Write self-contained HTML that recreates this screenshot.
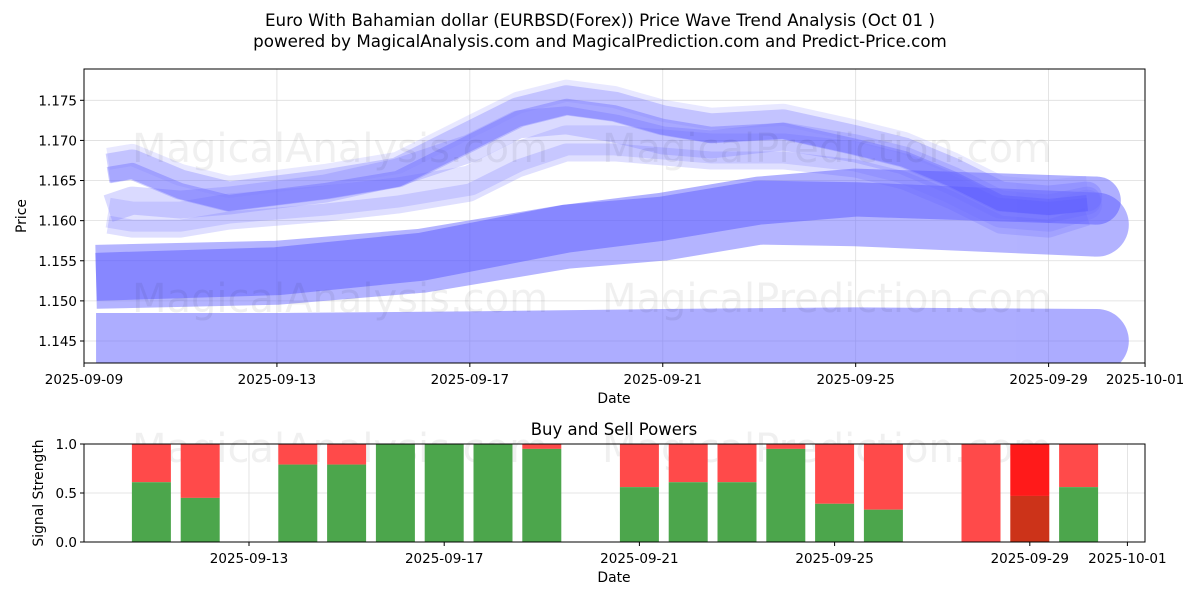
<!DOCTYPE html>
<html><head><meta charset="utf-8"><style>
body{margin:0;background:#fff;font-family:"Liberation Sans","DejaVu Sans",sans-serif}
svg text{font-family:"DejaVu Sans","Liberation Sans",sans-serif}
</style></head><body>
<svg id="chart" width="1200" height="600" viewBox="0 0 1200 600" xmlns="http://www.w3.org/2000/svg">
<defs><clipPath id="pc"><rect x="84" y="69" width="1061" height="294"/></clipPath></defs>
<rect width="1200" height="600" fill="#fff"/>
<text x="600" y="26" font-size="16.7" text-anchor="middle">Euro With Bahamian dollar (EURBSD(Forex)) Price Wave Trend Analysis (Oct 01 )</text>
<text x="600" y="47" font-size="16.7" text-anchor="middle">powered by MagicalAnalysis.com and MagicalPrediction.com and Predict-Price.com</text>
<g id="grid1"></g>
<g id="bands" clip-path="url(#pc)"></g>
<g font-size="40" fill="#000" fill-opacity="0.06">
<text x="132" y="162">MagicalAnalysis.com</text><text x="602" y="162">MagicalPrediction.com</text>
<text x="132" y="312">MagicalAnalysis.com</text><text x="602" y="312">MagicalPrediction.com</text>
<text x="132" y="462">MagicalAnalysis.com</text><text x="602" y="462">MagicalPrediction.com</text>
</g>
<rect x="84" y="69" width="1061" height="294" fill="none" stroke="#000" stroke-width="1"/>
<g id="axes1" font-size="13.5"></g>
<text x="26" y="216" font-size="13.9" text-anchor="middle" transform="rotate(-90 26 216)">Price</text>
<text x="614" y="403" font-size="13.9" text-anchor="middle">Date</text>
<text x="614" y="435" font-size="16.5" text-anchor="middle">Buy and Sell Powers</text>
<g id="grid2"></g>
<g id="bars"></g>
<rect x="84" y="444" width="1061" height="98" fill="none" stroke="#000" stroke-width="1"/>
<g id="axes2" font-size="13.5"></g>
<text x="43" y="493" font-size="13.9" text-anchor="middle" transform="rotate(-90 43 493)">Signal Strength</text>
<text x="614" y="582" font-size="13.9" text-anchor="middle">Date</text>
</svg>
<script>
const NS="http://www.w3.org/2000/svg";
// price chart data (day offsets from 2025-09-09)
const priceTicks=[1.145,1.150,1.155,1.160,1.165,1.170,1.175];
const dateTicks=["2025-09-09","2025-09-13","2025-09-17","2025-09-21","2025-09-25","2025-09-29","2025-10-01"];
const dateTickDays=[0,4,8,12,16,20,22];
const bandLowDays=[0.25,4,8,12,16,21];
const bandLowVals=[1.1445,1.1445,1.1447,1.1450,1.1452,1.1450];
const bandMidDays=[0.25,4,7,10,12,14,16,21];
const bandMidVals=[1.1530,1.1535,1.1550,1.1580,1.1590,1.1610,1.1608,1.1595];
const bandMid2Vals=[1.1530,1.1537,1.1555,1.1590,1.1605,1.1625,1.1635,1.1625];
const waveDays=[0.5,1,2,3,5,6.5,8,9,10,11,12,13,14.5,16,17,18,19,20,20.8];
const waveVals=[1.1665,1.1670,1.1645,1.1630,1.1645,1.1660,1.1705,1.1735,1.1750,1.1742,1.1725,1.1715,1.1720,1.1700,1.1685,1.1660,1.1630,1.1625,1.1630];
const wave2Vals=[1.1615,1.1625,1.1620,1.1625,1.1640,1.1660,1.1690,1.1720,1.1725,1.1715,1.1700,1.1695,1.1705,1.1690,1.1675,1.1650,1.1620,1.1615,1.1625];
const wave3Vals=[1.1610,1.1605,1.1605,1.1615,1.1625,1.1635,1.1650,1.1680,1.1700,1.1700,1.1695,1.1690,1.1690,1.1680,1.1665,1.1640,1.1610,1.1605,1.1620];
// signal data (day offsets from 2025-09-09)
const barDays=[2,3,5,6,7,8,9,10,12,13,14,15,16,17,19,20,21];
const buyVals=[0.61,0.45,0.79,0.79,1,1,1,0.95,0.56,0.61,0.61,0.95,0.39,0.33,0,0.47,0.56];
const sigTicks=[0,0.5,1];
const sigDateTicks=["2025-09-13","2025-09-17","2025-09-21","2025-09-25","2025-09-29","2025-10-01"];
const sigDateDays=[4,8,12,16,20,22];

const X=d=>84+d*48.23;
const Y=v=>100.3+(1.175-v)*8023;
const X2=d=>249+(d-4)*48.8;
const Y2=v=>542-v*98;
function el(t,a,p){const e=document.createElementNS(NS,t);for(const k in a)e.setAttribute(k,a[k]);p.appendChild(e);return e;}
const g1=document.getElementById('grid1'),ax1=document.getElementById('axes1'),bands=document.getElementById('bands');
priceTicks.forEach(v=>{
  const l=el('line',{x1:84,x2:1145,y1:Y(v),y2:Y(v),stroke:'#ddd','stroke-width':0.8},g1);
  
  
  el('line',{x1:80,x2:84,y1:Y(v),y2:Y(v),stroke:'#000'},ax1);
  const t=el('text',{x:77,y:Y(v)+5,'text-anchor':'end'},ax1);t.textContent=v.toFixed(3);
  
  
});
dateTicks.forEach((s,i)=>{
  const x=X(dateTickDays[i]);
  el('line',{x1:x,x2:x,y1:69,y2:363,stroke:'#ddd','stroke-width':0.8},g1);
  el('line',{x1:x,x2:x,y1:363,y2:367,stroke:'#000'},ax1);
  const t=el('text',{x:x,y:384,'text-anchor':'middle'},ax1);t.textContent=s;
  
  
});
function pts(ds,vs,off){return ds.map((d,i)=>X(d)+','+Y(vs[i]+(off||0))).join(' ');}
function band(ds,vs,w,col,op,name,off,cap){
  const g=el('g',{opacity:op},bands);
  
  
  el('polyline',{points:pts(ds,vs,off),fill:'none',stroke:col,'stroke-width':w,'stroke-linejoin':'round','stroke-linecap':'butt'},g);
  if(cap){const n=ds.length-1;el('circle',{cx:X(ds[n]),cy:Y(vs[n]+(off||0)),r:w/2,fill:col},g);}
}
band(bandLowDays,bandLowVals,64,'#6a6aff',0.55,'band-low',0,true);
band(bandMidDays,bandMidVals,64,'#6a6aff',0.5,'band-mid-outer',0,true);
band(bandMidDays,bandMid2Vals,48,'#5050ff',0.45,'band-mid-inner',0,true);
band(waveDays,wave3Vals,30,'#7070ff',0.2,'wave-band-low',0,true);
band(waveDays,wave3Vals,18,'#6060ff',0.2,'wave-band-low2',-0.0015,false);
band(waveDays,wave2Vals,28,'#6a6aff',0.25,'wave-band-mid',0,true);
band(waveDays,waveVals,30,'#6a6aff',0.3,'wave-band-high',0,true);
band(waveDays,waveVals,16,'#4a4aff',0.3,'wave-band-core',-0.0008,false);
band(waveDays,waveVals,22,'#8080ff',0.18,'wave-band-top',0.0012,false);

const g2=document.getElementById('grid2'),ax2=document.getElementById('axes2'),bars=document.getElementById('bars');
sigTicks.forEach(v=>{
  el('line',{x1:84,x2:1145,y1:Y2(v),y2:Y2(v),stroke:'#ddd','stroke-width':0.8},g2);
  el('line',{x1:80,x2:84,y1:Y2(v),y2:Y2(v),stroke:'#000'},ax2);
  const t=el('text',{x:77,y:Y2(v)+5,'text-anchor':'end'},ax2);t.textContent=v.toFixed(1);
  
  
});
sigDateTicks.forEach((s,i)=>{
  const x=X2(sigDateDays[i]);
  el('line',{x1:x,x2:x,y1:444,y2:542,stroke:'#ddd','stroke-width':0.8},g2);
  el('line',{x1:x,x2:x,y1:542,y2:546,stroke:'#000'},ax2);
  const t=el('text',{x:x,y:563,'text-anchor':'middle'},ax2);t.textContent=s;
  
  
});
barDays.forEach((d,i)=>{
  const cx=X2(d),w=39,b=buyVals[i];
  const special=(d===20);
  const r=el('rect',{x:cx-w/2,y:Y2(1),width:w,height:Y2(b)-Y2(1),fill:special?'#ff1a1a':'#ff4a4a'},bars);
  
  
  const g=el('rect',{x:cx-w/2,y:Y2(b),width:w,height:Y2(0)-Y2(b),fill:special?'#cc3319':'#4ca64c'},bars);
  
  
});
</script>
</body></html>
